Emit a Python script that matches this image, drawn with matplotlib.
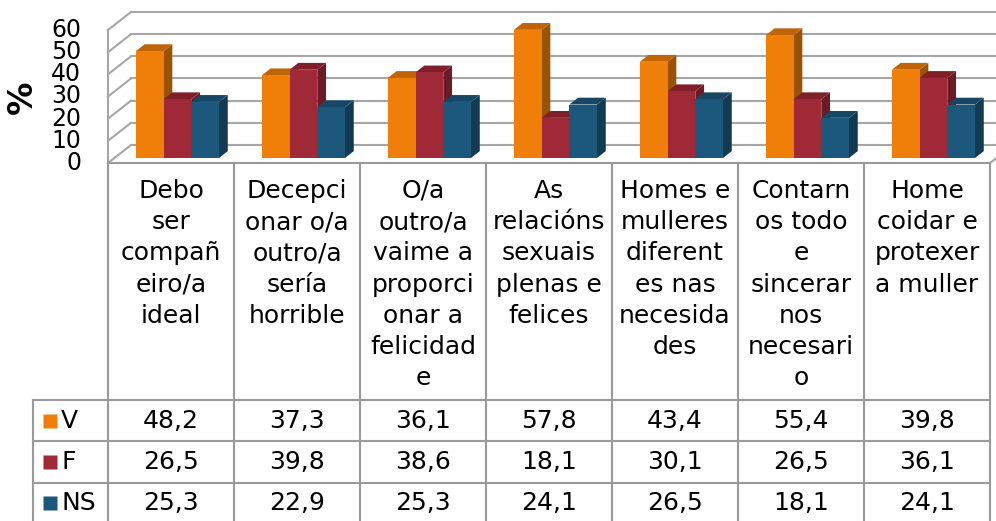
import numpy as np
import matplotlib.pyplot as plt
from matplotlib.patches import Polygon

# ---- data -------------------------------------------------------------
categories = [
    "Debo\nser\ncompañ\neiro/a\nideal",
    "Decepci\nonar o/a\noutro/a\nsería\nhorrible",
    "O/a\noutro/a\nvaime a\nproporci\nonar a\nfelicidad\ne",
    "As\nrelacións\nsexuais\nplenas e\nfelices",
    "Homes e\nmulleres\ndiferent\nes nas\nnecesida\ndes",
    "Contarn\nos todo\ne\nsincerar\nnos\nnecesari\no",
    "Home\ncoidar e\nprotexer\na muller",
]
series_names = ["V", "F", "NS"]
v_vals = [48.2, 37.3, 36.1, 57.8, 43.4, 55.4, 39.8]
f_vals = [26.5, 39.8, 38.6, 18.1, 30.1, 26.5, 36.1]
ns_vals = [25.3, 22.9, 25.3, 24.1, 26.5, 18.1, 24.1]
y_ticks = [0, 10, 20, 30, 40, 50, 60]

series = [v_vals, f_vals, ns_vals]
front_colors = ["#F07F09", "#9F2936", "#1B587C"]
top_colors = ["#BF6508", "#7E1F2A", "#164866"]
side_colors = ["#9A5205", "#6A1B25", "#123A52"]
grid_col = "#A6A6A6"
table_col = "#9A9A9A"

# ---- layout (pixels of the 996x521 picture) ---------------------------
W, H = 996, 521
col_px = 126.0        # width of one category column
x0_px = 108.0         # left edge of the plot / table
y0_px = 163.0         # front floor line
unit_px = 133.0 / 60  # pixels per percent

fig = plt.figure(figsize=(W / 100, H / 100), dpi=100)
ax = fig.add_axes([0, 0, 1, 1])
ax.axis("off")
ax.set_xlim(-x0_px / col_px, (W - x0_px) / col_px)
ax.set_ylim(-(H - y0_px) / unit_px, y0_px / unit_px)


def px_x(p):
    return (p - x0_px) / col_px


def px_y(p):
    return (y0_px - p) / unit_px


# depth offset of the 3D box
DX = 23 / col_px
DY = 18 / unit_px


def proj(x, v, d):
    return (x + d * DX, v + d * DY)


n = len(categories)

# walls and gridlines
for t in y_ticks:
    a, b = proj(0, t, 0), proj(0, t, 1)
    ax.plot([a[0], b[0]], [a[1], b[1]], color=grid_col, lw=1.5, zorder=1)
    c = proj(n + 1, t, 1)
    ax.plot([b[0], c[0]], [b[1], c[1]], color=grid_col, lw=1.5, zorder=1)
ax.plot([0, 0], [0, y_ticks[-1]], color=grid_col, lw=1.5, zorder=1)
a, b = proj(n, 0, 0), proj(n, 0, 1.2)
ax.plot([a[0], b[0]], [a[1], b[1]], color=grid_col, lw=1.5, zorder=1)

for t in y_ticks:
    ax.text(px_x(81), t, str(t), ha="right", va="center", fontsize=17)
ax.text(px_x(22), px_y(97), "%", rotation=90, ha="center", va="center",
        fontsize=24, fontweight="bold")

# bars
bw = 0.22
d0, d1 = 0.28, 0.66
z = 5
for i in range(n):
    for k, vals in enumerate(series):
        v = vals[i]
        xl = i + 0.17 + k * bw
        xr = xl + bw
        side = [proj(xr, 0, d0), proj(xr, 0, d1), proj(xr, v, d1), proj(xr, v, d0)]
        top = [proj(xl, v, d0), proj(xr, v, d0), proj(xr, v, d1), proj(xl, v, d1)]
        front = [proj(xl, 0, d0), proj(xr, 0, d0), proj(xr, v, d0), proj(xl, v, d0)]
        ax.add_patch(Polygon(side, closed=True, fc=side_colors[k], ec="none", zorder=z))
        ax.add_patch(Polygon(top, closed=True, fc=top_colors[k], ec="none", zorder=z))
        ax.add_patch(Polygon(front, closed=True, fc=front_colors[k], ec="none", zorder=z + 1))
        z += 2

# data table
row_lines = [px_y(400), px_y(441), px_y(483)]
bottom = px_y(H + 5)
left_legend = px_x(33)
ax.plot([0, n], [0, 0], color=table_col, lw=1.5, zorder=2)
for j in range(n + 1):
    ax.plot([j, j], [0, bottom], color=table_col, lw=1.5, zorder=2)
for r in row_lines:
    ax.plot([left_legend, n], [r, r], color=table_col, lw=1.5, zorder=2)
ax.plot([left_legend, left_legend], [row_lines[0], bottom], color=table_col, lw=1.5, zorder=2)

for i, lab in enumerate(categories):
    ax.text(i + 0.5, px_y(179), lab, ha="center", va="top", fontsize=18,
            linespacing=1.38)

row_centers = [px_y(421), px_y(462), px_y(503)]
for k, (name, vals) in enumerate(zip(series_names, series)):
    yc = row_centers[k]
    ax.plot([px_x(49.5)], [yc], marker="s", ms=10.5, color=front_colors[k],
            mec="none", zorder=3)
    ax.text(px_x(61), yc, name, ha="left", va="center", fontsize=18)
    for i, v in enumerate(vals):
        ax.text(i + 0.5, yc, f"{v:.1f}".replace(".", ","), ha="center",
                va="center", fontsize=18)

fig.savefig("out.png", dpi=100)
